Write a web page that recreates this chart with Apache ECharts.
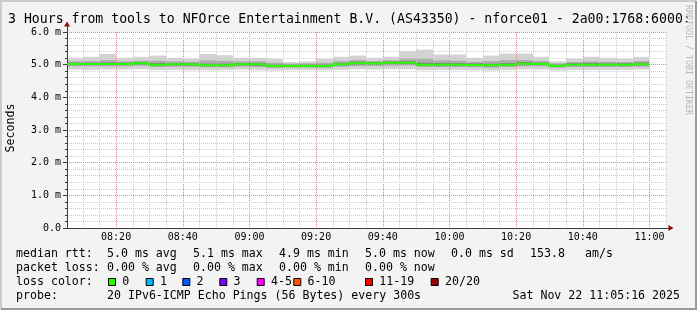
<!DOCTYPE html>
<html><head><meta charset="utf-8">
<script src="https://cdn.jsdelivr.net/npm/echarts@6/dist/echarts.min.js"></script>
<style>
html,body{margin:0;padding:0;background:#f3f3f3;}
#c{width:697px;height:310px;}
</style></head><body><div id="c"></div>
<script>
// ---------- data ----------
const titleText = '3 Hours from tools to NFOrce Entertainment B.V. (AS43350) - nforce01 - 2a00:1768:6000:';
const windowStart = '08:05:16';
const windowEnd = '11:05:16';
const sampleStepMin = 5;
const sampleTimes = ['08:10','08:15','08:20','08:25','08:30','08:35','08:40','08:45','08:50','08:55',
  '09:00','09:05','09:10','09:15','09:20','09:25','09:30','09:35','09:40','09:45',
  '09:50','09:55','10:00','10:05','10:10','10:15','10:20','10:25','10:30','10:35',
  '10:40','10:45','10:50','10:55','11:00'];
const medianRtt = [5.02,5.02,5.02,5.02,5.04,5.00,5.01,5.01,4.98,4.98,
  5.01,5.01,4.96,4.96,4.96,4.96,5.01,5.04,5.04,5.06,
  5.06,5.00,5.00,5.00,4.99,4.98,5.00,5.03,5.02,4.97,
  5.00,5.00,5.00,5.00,5.01];
const maxRtt = [5.21,5.24,5.33,5.21,5.24,5.28,5.21,5.18,5.33,5.29,
  5.21,5.21,5.18,5.08,5.10,5.18,5.24,5.28,5.21,5.24,
  5.41,5.46,5.31,5.31,5.21,5.28,5.34,5.34,5.24,5.10,
  5.18,5.24,5.21,5.18,5.24];
const hiRtt = [5.10,5.11,5.14,5.10,5.12,5.12,5.10,5.09,5.13,5.12,
  5.10,5.10,5.06,5.03,5.04,5.06,5.11,5.14,5.11,5.13,
  5.19,5.18,5.13,5.12,5.09,5.11,5.14,5.14,5.11,5.04,
  5.08,5.10,5.09,5.08,5.11];
const coreHiRtt = [5.06,5.06,5.07,5.06,5.08,5.05,5.05,5.05,5.03,5.03,
  5.05,5.05,5.00,4.99,5.00,5.00,5.05,5.09,5.08,5.10,
  5.11,5.06,5.05,5.05,5.04,5.03,5.05,5.08,5.06,5.00,
  5.04,5.05,5.04,5.04,5.06];
const coreLoRtt = [4.99,4.99,4.99,4.99,5.01,4.97,4.98,4.98,4.95,4.95,
  4.98,4.97,4.93,4.94,4.94,4.93,4.98,5.00,5.00,5.02,
  5.02,4.97,4.97,4.97,4.96,4.95,4.97,4.99,4.99,4.94,
  4.97,4.97,4.97,4.97,4.98];
const loRtt = [4.95,4.95,4.95,4.95,4.97,4.93,4.94,4.94,4.92,4.92,
  4.94,4.93,4.90,4.91,4.91,4.90,4.94,4.96,4.96,4.97,
  4.98,4.93,4.93,4.93,4.92,4.91,4.93,4.95,4.95,4.91,
  4.93,4.93,4.93,4.93,4.94];
const minRtt = [4.85,4.84,4.85,4.85,4.86,4.84,4.84,4.83,4.83,4.84,
  4.85,4.83,4.82,4.84,4.84,4.83,4.84,4.86,4.85,4.86,
  4.86,4.83,4.84,4.84,4.83,4.82,4.84,4.85,4.85,4.82,
  4.84,4.84,4.84,4.84,4.85];
const xTickLabels = ['08:20','08:40','09:00','09:20','09:40','10:00','10:20','10:40','11:00'];
const majorGridMin = 20, minorGridMin = 5;
const yMaxMs = 6;
const yAxisName = 'Seconds';
const rttLabel = 'median rtt:';
const rttStats = ['5.0 ms avg','5.1 ms max','4.9 ms min','5.0 ms now','0.0 ms sd','153.8','am/s'];
const lossLabel = 'packet loss:';
const lossStats = ['0.00 % avg','0.00 % max','0.00 % min','0.00 % now'];
const lossColorLabel = 'loss color:';
const lossBuckets = ['0','1','2','3','4-5','6-10','11-19','20/20'];
const lossColors = ['#26ff00','#00b8ff','#0059ff','#7e00ff','#ff00ff','#ff5500','#ff0000','#a10000'];
const probeLabel = 'probe:';
const probeText = '20 IPv6-ICMP Echo Pings (56 Bytes) every 300s';
const stampText = 'Sat Nov 22 11:05:16 2025';
const watermark = 'RRDTOOL / TOBI OETIKER';

// ---------- layout ----------
const MONO = "'DejaVu Sans Mono', monospace";
const statCols = [107,193,279,365,451,530,585];
const boxX = [108,145.7,182.3,219.3,256.7,293.3,365,430.7];
const rowY = [254,268.3,282.3,296.2];
const legendFont = 11.6;

function toMin(s){const p=s.split(':').map(Number);return p[0]*60+p[1]+(p[2]||0)/60;}
const xMin = toMin(windowStart), xMax = toMin(windowEnd);
const majorVals = xTickLabels.map(toMin);
const fmtTime = v => { const h=Math.floor(v/60+1e-6), m=Math.round(v-h*60); return String(h).padStart(2,'0')+':'+String(m).padStart(2,'0'); };

// vertical grid positions (clock times every 5 min inside the window)
const vGrid = [];
for (let m = Math.ceil(xMin / minorGridMin) * minorGridMin; m <= xMax; m += minorGridMin) {
  vGrid.push([m, m % majorGridMin === 0 ? 1 : 0]);
}

const bandData = sampleTimes.map((t,i)=>[toMin(t), minRtt[i], loRtt[i], coreLoRtt[i], coreHiRtt[i], hiRtt[i], maxRtt[i]]);
const medData = sampleTimes.map((t,i)=>[toMin(t), medianRtt[i], i>0?medianRtt[i-1]:medianRtt[i]]);

const chart = echarts.init(document.getElementById('c'), null, {renderer:'canvas'});

const gridLeft = 67, gridTop = 32, gridW = 600, gridH = 196;
const axisCol = '#3a3a3a';
const arrowCol = '#8e1010';
const minorStyle = {color:'#cdcdcd', type:[1,1], width:1};
const majorStyle = {color:'#e88585', type:[1,1], width:1};
const hidden = {axisLine:{show:false}, axisTick:{show:false}, axisLabel:{show:false}, splitLine:{show:false}};

const graphics = [];
function txt(x,y,text,opt){ graphics.push(Object.assign({type:'text', x, y, silent:true,
  style:Object.assign({text, font: legendFont+'px '+MONO, fill:'#000', align:'left', verticalAlign:'middle'}, opt||{})})); }
txt(8, 19.7, titleText, {font:'13.2px '+MONO});
graphics.push({type:'text', x:11, y:128, rotation:Math.PI/2, silent:true,
  style:{text:yAxisName, font:legendFont+'px '+MONO, fill:'#000', align:'center', verticalAlign:'middle'}});
graphics.push({type:'text', x:688, y:60, rotation:-Math.PI/2, silent:true,
  style:{text:watermark, font:'8.3px '+MONO, fill:'#b8b8b8', align:'center', verticalAlign:'middle'}});
txt(16,rowY[0],rttLabel); rttStats.forEach((s,i)=>txt(statCols[i],rowY[0],s));
txt(16,rowY[1],lossLabel); lossStats.forEach((s,i)=>txt(statCols[i],rowY[1],s));
txt(16,rowY[2],lossColorLabel);
lossBuckets.forEach((b,i)=>{
  graphics.push({type:'rect', silent:true, shape:{x:boxX[i]+0.5, y:278.5, width:7, height:7},
    style:{fill:lossColors[i], stroke:'#000', lineWidth:1}});
  txt(boxX[i]+14.3, rowY[2], b);
});
txt(16,rowY[3],probeLabel); txt(107,rowY[3],probeText); txt(680,rowY[3],stampText,{align:'right'});
graphics.push({type:'polyline', silent:true, shape:{points:[[1,309],[1,1],[696,1]]}, style:{stroke:'#cbcbcb', lineWidth:2, fill:null}});
graphics.push({type:'polyline', silent:true, shape:{points:[[1,309],[696,309],[696,1]]}, style:{stroke:'#9a9a9a', lineWidth:2, fill:null}});

const option = {
  backgroundColor:'#f3f3f3',
  animation:false,
  grid:[
    {left:gridLeft, top:gridTop, width:gridW, height:gridH, show:true, backgroundColor:'#fff', borderWidth:0},
    {left:gridLeft, top:24, width:604, height:gridTop+gridH-24}
  ],
  xAxis:[
    {type:'value', gridIndex:0, min:xMin, max:xMax, position:'bottom', z:3,
     axisLine:{show:false}, axisTick:{show:false},
     axisLabel:{customValues:majorVals, formatter:fmtTime, fontFamily:MONO, fontSize:10, color:'#000', margin:4},
     splitLine:{show:false}},
    Object.assign({type:'value', gridIndex:1, min:0, max:1, position:'bottom', z:5}, hidden,
     {axisLine:{show:true, lineStyle:{color:axisCol, width:1}}}),
    Object.assign({type:'value', gridIndex:1, min:0, max:1, position:'bottom', z:6}, hidden,
     {axisLine:{show:true, symbol:['none','triangle'], symbolSize:[6,5], lineStyle:{color:arrowCol, width:0}}})
  ],
  yAxis:[
    {type:'value', gridIndex:0, min:0, max:yMaxMs, interval:1, z:4,
     axisLine:{show:false},
     axisTick:{show:true, length:4, lineStyle:{color:axisCol}},
     minorTick:{show:true, splitNumber:5, length:2, lineStyle:{color:axisCol}},
     axisLabel:{formatter:v=>v===0?'0.0':v.toFixed(1)+' m', fontFamily:MONO, fontSize:10, color:'#000', margin:6},
     splitLine:{show:true, lineStyle:majorStyle}, minorSplitLine:{show:true, lineStyle:minorStyle}},
    Object.assign({type:'value', gridIndex:1, min:0, max:1, position:'left', z:5}, hidden,
     {axisLine:{show:true, lineStyle:{color:axisCol, width:1}}}),
    Object.assign({type:'value', gridIndex:1, min:0, max:1, position:'left', z:6}, hidden,
     {axisLine:{show:true, symbol:['none','triangle'], symbolSize:[6,5], lineStyle:{color:arrowCol, width:0}}})
  ],
  series:[
    {type:'custom', xAxisIndex:0, yAxisIndex:0, z:1, silent:true,
     data:bandData, encode:{x:0, y:[1,6]},
     renderItem:(params, api)=>{
       const t = api.value(0), cs = params.coordSys;
       let xa = Math.round(api.coord([t - sampleStepMin, 0])[0]);
       let xb = Math.round(api.coord([t, 0])[0]);
       xa = Math.max(xa, cs.x); xb = Math.min(xb, cs.x + cs.width);
       const y = v => api.coord([t, v])[1];
       const yMn = y(api.value(1)), yLo = y(api.value(2)), yCl = y(api.value(3)),
             yCh = y(api.value(4)), yHi = y(api.value(5)), yMx = y(api.value(6));
       const r = (a,b,c)=>({type:'rect', shape:{x:xa, y:b, width:xb-xa, height:a-b}, style:{fill:c}});
       return {type:'group', children:[
         r(yMn, yMx, '#d3d3d3'),
         r(yLo, yHi, '#acacac'),
         r(yCl, yCh, '#828282')
       ]};
     }},
    // vertical time grid, positioned by the x axis scale
    {type:'custom', xAxisIndex:0, yAxisIndex:0, z:3, silent:true,
     data:vGrid, encode:{x:0},
     renderItem:(params, api)=>{
       const cs = params.coordSys;
       const x = Math.round(api.coord([api.value(0), 0])[0]) + 0.5;
       const st = api.value(1) ? majorStyle : minorStyle;
       return {type:'line', shape:{x1:x, y1:cs.y, x2:x, y2:cs.y + cs.height},
         style:{stroke:st.color, lineWidth:1, lineDash:[1,1]}, z2: api.value(1) ? 2 : 1};
     }},
    {type:'custom', xAxisIndex:0, yAxisIndex:0, z:6, silent:true,
     data:medData, encode:{x:0, y:1},
     renderItem:(params, api)=>{
       const t = api.value(0), cs = params.coordSys;
       let xa = Math.round(api.coord([t - sampleStepMin, 0])[0]);
       let xb = Math.round(api.coord([t, 0])[0]);
       xa = Math.max(xa, cs.x); xb = Math.min(xb, cs.x + cs.width);
       const yv = api.coord([t, api.value(1)])[1], yp = api.coord([t, api.value(2)])[1];
       return {type:'polyline', shape:{points:[[xa,yp],[xa,yv],[xb,yv]]},
         style:{stroke:'#26ff00', lineWidth:2, fill:null}};
     }}
  ],
  graphic:{elements:graphics}
};
chart.setOption(option);
</script></body></html>
